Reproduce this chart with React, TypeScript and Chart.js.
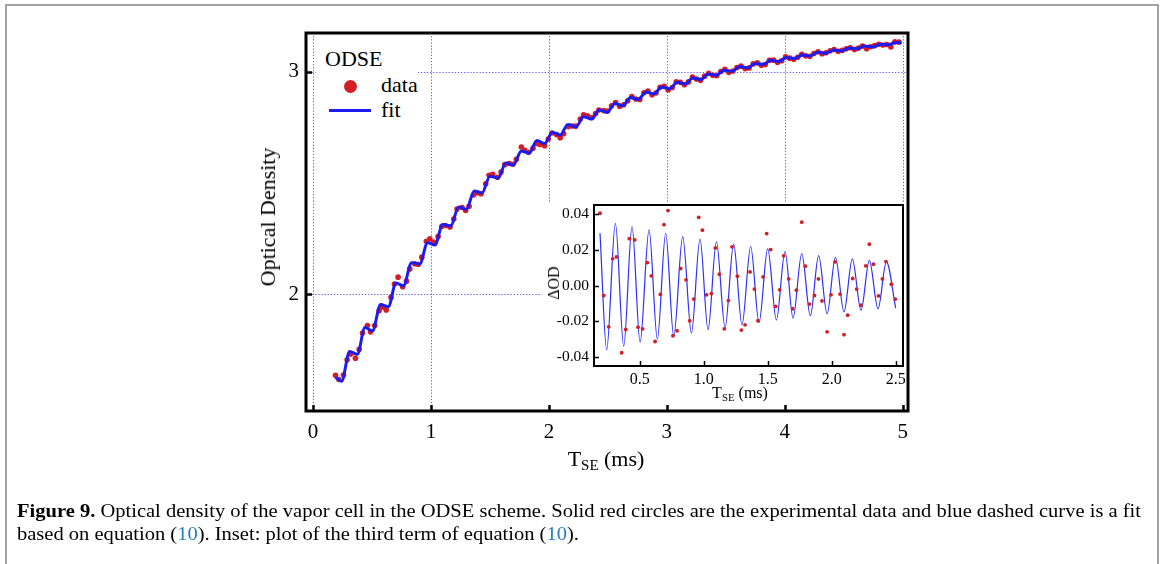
import React, { useEffect, useLayoutEffect, useRef } from "react";
import { Chart, registerables } from "chart.js";

Chart.register(...registerables);

const SERIF = '"Liberation Serif", "Times New Roman", serif';

// ---------- main plot data ----------
const dataX = [
  0.190, 0.219, 0.258, 0.289, 0.318, 0.359, 0.391, 0.419, 0.461, 0.487,
  0.523, 0.560, 0.591, 0.620, 0.661, 0.690, 0.721, 0.760, 0.792, 0.820,
  0.862, 0.891, 0.922, 0.961, 0.990, 1.023, 1.060, 1.091, 1.122, 1.161,
  1.193, 1.221, 1.263, 1.294, 1.323, 1.362, 1.396, 1.424, 1.464, 1.492,
  1.523, 1.563, 1.594, 1.625, 1.664, 1.695, 1.724, 1.766, 1.794, 1.826,
  1.865, 1.896, 1.924, 1.964, 1.995, 2.026, 2.065, 2.096, 2.125, 2.164,
  2.195, 2.227, 2.266, 2.294, 2.326, 2.365, 2.396, 2.424, 2.466, 2.497,
  2.531, 2.565, 2.600, 2.634, 2.668, 2.703, 2.737, 2.771, 2.806, 2.840,
  2.874, 2.908, 2.943, 2.977, 3.011, 3.046, 3.080, 3.114, 3.149, 3.183,
  3.217, 3.252, 3.286, 3.320, 3.355, 3.389, 3.423, 3.458, 3.492, 3.526,
  3.561, 3.595, 3.629, 3.664, 3.698, 3.732, 3.767, 3.801, 3.835, 3.870,
  3.904, 3.938, 3.973, 4.007, 4.041, 4.076, 4.110, 4.144, 4.179, 4.213,
  4.247, 4.282, 4.316, 4.350, 4.385, 4.419, 4.453, 4.488, 4.522, 4.556,
  4.591, 4.625, 4.659, 4.694, 4.728, 4.762, 4.797, 4.831, 4.865, 4.900,
  4.934, 4.968,
];
const dataY = [
  1.636, 1.617, 1.637, 1.705, 1.731, 1.712, 1.752, 1.826, 1.859, 1.831,
  1.859, 1.926, 1.943, 1.929, 1.986, 2.046, 2.077, 2.034, 2.059, 2.114,
  2.137, 2.134, 2.167, 2.238, 2.249, 2.235, 2.260, 2.305, 2.309, 2.303,
  2.338, 2.383, 2.390, 2.377, 2.396, 2.447, 2.456, 2.452, 2.497, 2.535,
  2.540, 2.526, 2.550, 2.583, 2.588, 2.585, 2.607, 2.662, 2.648, 2.639,
  2.657, 2.678, 2.673, 2.668, 2.698, 2.725, 2.718, 2.704, 2.722, 2.754,
  2.757, 2.756, 2.788, 2.807, 2.803, 2.795, 2.813, 2.829, 2.826, 2.824,
  2.848, 2.862, 2.846, 2.852, 2.870, 2.889, 2.878, 2.876, 2.906, 2.914,
  2.897, 2.905, 2.931, 2.935, 2.919, 2.930, 2.956, 2.953, 2.942, 2.955,
  2.977, 2.968, 2.962, 2.981, 2.994, 2.985, 2.983, 3.002, 3.012, 2.998,
  3.004, 3.020, 3.026, 3.015, 3.018, 3.036, 3.041, 3.030, 3.033, 3.052,
  3.053, 3.043, 3.050, 3.068, 3.062, 3.057, 3.066, 3.079, 3.072, 3.070,
  3.083, 3.091, 3.082, 3.086, 3.095, 3.101, 3.093, 3.097, 3.104, 3.109,
  3.101, 3.107, 3.116, 3.104, 3.113, 3.118, 3.124, 3.121, 3.123, 3.112,
  3.135, 3.134,
];
const fitX = [
  0.190, 0.242, 0.310, 0.375, 0.440, 0.503, 0.573, 0.638, 0.703, 0.766,
  0.836, 0.904, 0.971, 1.034, 1.099, 1.167, 1.234, 1.299, 1.367, 1.432,
  1.500, 1.568, 1.635, 1.698, 1.766, 1.833, 1.898, 1.964, 2.029, 2.096,
  2.161, 2.229, 2.294, 2.362, 2.427, 2.493, 2.559, 2.625, 2.692, 2.758,
  2.824, 2.890, 2.956, 3.022, 3.088, 3.155, 3.221, 3.287, 3.353, 3.419,
  3.485, 3.552, 3.618, 3.684, 3.750, 3.816, 3.882, 3.949, 4.015, 4.081,
  4.147, 4.213, 4.279, 4.346, 4.412, 4.478, 4.544, 4.610, 4.676, 4.743,
  4.809, 4.875, 4.941, 4.990,
];
const fitY = [
  1.626, 1.609, 1.743, 1.730, 1.850, 1.835, 1.954, 1.944, 2.051, 2.038,
  2.142, 2.136, 2.232, 2.222, 2.314, 2.307, 2.392, 2.382, 2.464, 2.455,
  2.531, 2.522, 2.590, 2.581, 2.644, 2.635, 2.691, 2.678, 2.729, 2.716,
  2.764, 2.753, 2.798, 2.788, 2.829, 2.818, 2.858, 2.848, 2.885, 2.876,
  2.910, 2.901, 2.932, 2.924, 2.953, 2.946, 2.973, 2.966, 2.991, 2.985,
  3.008, 3.002, 3.024, 3.018, 3.038, 3.034, 3.052, 3.047, 3.065, 3.060,
  3.076, 3.072, 3.088, 3.084, 3.098, 3.094, 3.107, 3.104, 3.116, 3.112,
  3.124, 3.122, 3.132, 3.130,
];

// ---------- inset data ----------
const insetDataX = [
  0.190, 0.219, 0.258, 0.289, 0.318, 0.359, 0.391, 0.419, 0.461, 0.487,
  0.523, 0.560, 0.591, 0.620, 0.661, 0.690, 0.721, 0.760, 0.792, 0.820,
  0.862, 0.891, 0.922, 0.961, 0.990, 1.023, 1.060, 1.091, 1.122, 1.161,
  1.193, 1.221, 1.263, 1.294, 1.323, 1.362, 1.396, 1.424, 1.464, 1.492,
  1.523, 1.563, 1.594, 1.625, 1.664, 1.695, 1.724, 1.766, 1.794, 1.826,
  1.865, 1.896, 1.924, 1.964, 1.995, 2.026, 2.065, 2.096, 2.125, 2.164,
  2.195, 2.227, 2.266, 2.294, 2.326, 2.365, 2.396, 2.424, 2.466, 2.497,
];
const insetDataY = [
  0.0404, -0.0056, -0.0231, 0.0149, 0.0160, -0.0376, -0.0246, 0.0262, 0.0255, -0.0233,
  -0.0242, 0.0128, 0.0054, -0.0313, -0.0050, 0.0340, 0.0419, -0.0281, -0.0253, 0.0095,
  0.0032, -0.0197, -0.0076, 0.0381, 0.0309, -0.0052, -0.0045, 0.0210, 0.0063, -0.0242,
  -0.0084, 0.0216, 0.0052, -0.0249, -0.0220, 0.0076, -0.0020, -0.0197, 0.0048, 0.0290,
  0.0201, -0.0117, -0.0024, 0.0166, 0.0037, -0.0130, -0.0026, 0.0354, 0.0108, -0.0104,
  -0.0056, 0.0037, -0.0086, -0.0259, -0.0052, 0.0132, -0.0048, -0.0275, -0.0166, 0.0039,
  -0.0020, -0.0110, 0.0110, 0.0231, 0.0119, -0.0058, 0.0037, 0.0134, 0.0007, -0.0076,
];
const insetFitX = [
  0.190, 0.242, 0.310, 0.375, 0.440, 0.503, 0.573, 0.638, 0.703, 0.766,
  0.836, 0.904, 0.971, 1.034, 1.099, 1.167, 1.234, 1.299, 1.367, 1.432,
  1.500, 1.568, 1.635, 1.698, 1.766, 1.833, 1.898, 1.964, 2.029, 2.096,
  2.161, 2.229, 2.294, 2.362, 2.427, 2.500,
];
const insetFitY = [
  0.0292, -0.0359, 0.0348, -0.0340, 0.0329, -0.0318, 0.0311, -0.0300, 0.0292, -0.0285,
  0.0273, -0.0266, 0.0260, -0.0247, 0.0246, -0.0234, 0.0231, -0.0220, 0.0218, -0.0207,
  0.0205, -0.0193, 0.0190, -0.0182, 0.0179, -0.0169, 0.0167, -0.0158, 0.0158, -0.0147,
  0.0149, -0.0138, 0.0140, -0.0130, 0.0134, -0.0127,
];

// ---------- ticks ----------
const mainXTicks = [0, 1, 2, 3, 4, 5];
const mainYTicks = [2, 3];
const insetXTicks = [0.5, 1.0, 1.5, 2.0, 2.5];
const insetYTicks = [-0.04, -0.02, 0.0, 0.02, 0.04];

const RED = "rgb(210,30,36)";
const BLUE = "rgb(28,28,240)";
const INSET_BLUE = "rgb(45,45,255)";
const GRID = "rgb(95,95,255)";

const pts = (xs: number[], ys: number[]) => xs.map((x, i) => ({ x, y: ys[i] }));

function framePlugin(o: {
  grid: boolean;
  frameWidth: number;
  tickLen: number;
  tickWidth: number;
  xTicks: number[];
  yTicks: number[];
  white?: [number, number, number, number];
}) {
  return {
    id: "frame",
    beforeDraw(chart: any) {
      if (!o.white) return;
      const ctx = chart.ctx;
      ctx.save();
      ctx.fillStyle = "#fff";
      ctx.fillRect(o.white[0], o.white[1], o.white[2], o.white[3]);
      ctx.restore();
    },
    beforeDatasetsDraw(chart: any) {
      if (!o.grid) return;
      const { ctx, chartArea: a, scales } = chart;
      ctx.save();
      ctx.strokeStyle = GRID;
      ctx.lineWidth = 1;
      ctx.setLineDash([1.3, 1.8]);
      for (const v of o.xTicks) {
        const px = Math.round(scales.x.getPixelForValue(v)) + 0.5;
        ctx.beginPath();
        ctx.moveTo(px, a.top);
        ctx.lineTo(px, a.bottom);
        ctx.stroke();
      }
      for (const v of o.yTicks) {
        const py = Math.round(scales.y.getPixelForValue(v)) + 0.5;
        ctx.beginPath();
        ctx.moveTo(a.left, py);
        ctx.lineTo(a.right, py);
        ctx.stroke();
      }
      ctx.restore();
    },
    afterDatasetsDraw(chart: any) {
      const { ctx, chartArea: a, scales } = chart;
      ctx.save();
      ctx.setLineDash([]);
      ctx.strokeStyle = "#000";
      ctx.lineWidth = o.frameWidth;
      ctx.strokeRect(a.left, a.top, a.right - a.left, a.bottom - a.top);
      ctx.lineWidth = o.tickWidth;
      for (const v of o.xTicks) {
        const px = Math.round(scales.x.getPixelForValue(v)) + 0.5;
        ctx.beginPath();
        ctx.moveTo(px, a.bottom);
        ctx.lineTo(px, a.bottom - o.tickLen);
        ctx.stroke();
      }
      for (const v of o.yTicks) {
        const py = Math.round(scales.y.getPixelForValue(v)) + 0.5;
        ctx.beginPath();
        ctx.moveTo(a.left, py);
        ctx.lineTo(a.left + o.tickLen, py);
        ctx.stroke();
      }
      ctx.restore();
    },
  };
}

function axis(
  min: number,
  max: number,
  ticks: number[],
  size: number,
  fontSize: number,
  padding: number,
  fmt: (v: number) => string,
  isX: boolean
) {
  return {
    type: "linear" as const,
    min,
    max,
    afterBuildTicks: (s: any) => {
      s.ticks = ticks.map((v) => ({ value: v }));
    },
    afterFit: (s: any) => {
      if (isX) s.height = size;
      else s.width = size;
    },
    grid: { display: false, drawTicks: false },
    border: { display: false },
    ticks: {
      color: "#000",
      font: { family: SERIF, size: fontSize },
      padding,
      autoSkip: false,
      maxRotation: 0,
      callback: (v: any) => fmt(Number(v)),
    },
  };
}

// inset canvas placement on the page
const IN_LEFT = 520;
const IN_TOP = 180;
const IN_W = 420;
const IN_H = 240;

export default function App() {
  const mainRef = useRef<HTMLCanvasElement>(null);
  const insetRef = useRef<HTMLCanvasElement>(null);
  const capRef = useRef<HTMLDivElement>(null);
  const line1Ref = useRef<HTMLSpanElement>(null);

  useEffect(() => {
    const main = new Chart(mainRef.current as HTMLCanvasElement, {
      type: "scatter",
      data: {
        datasets: [
          {
            label: "fit",
            data: pts(fitX, fitY),
            showLine: true,
            borderColor: BLUE,
            borderWidth: 3,
            pointRadius: 0,
            fill: false,
            cubicInterpolationMode: "monotone",
            order: 0,
          } as any,
          {
            label: "data",
            data: pts(dataX, dataY),
            showLine: false,
            backgroundColor: RED,
            borderWidth: 0,
            pointRadius: 2.8,
            order: 1,
          } as any,
        ],
      },
      options: {
        animation: false,
        responsive: false,
        maintainAspectRatio: false,
        layout: { padding: { left: 306 - 40, right: 1166 - 908, top: 33, bottom: 564 - 411 - 45 } },
        plugins: { legend: { display: false }, tooltip: { enabled: false } },
        scales: {
          x: axis(-0.06, 5.045, mainXTicks, 45, 21, 9, (v) => String(v), true),
          y: axis(1.475, 3.175, mainYTicks, 40, 21, 7, (v) => String(v), false),
        } as any,
      },
      plugins: [framePlugin({ grid: true, frameWidth: 3, tickLen: 6, tickWidth: 2.5, xTicks: mainXTicks, yTicks: mainYTicks })],
    });

    // inset chart area on page: x 594..903, y 205..366 ; white box 542..906 x 202..404
    const inset = new Chart(insetRef.current as HTMLCanvasElement, {
      type: "scatter",
      data: {
        datasets: [
          {
            label: "data",
            data: pts(insetDataX, insetDataY),
            showLine: false,
            backgroundColor: RED,
            borderWidth: 0,
            pointRadius: 1.9,
            order: 0,
          } as any,
          {
            label: "fit",
            data: pts(insetFitX, insetFitY),
            showLine: true,
            borderColor: INSET_BLUE,
            borderWidth: 1.2,
            pointRadius: 0,
            fill: false,
            cubicInterpolationMode: "monotone",
            order: 1,
          } as any,
        ],
      },
      options: {
        animation: false,
        responsive: false,
        maintainAspectRatio: false,
        layout: {
          padding: {
            left: 594 - IN_LEFT - 50,
            right: IN_LEFT + IN_W - 903,
            top: 205 - IN_TOP,
            bottom: IN_TOP + IN_H - 366 - 30,
          },
        },
        plugins: { legend: { display: false }, tooltip: { enabled: false } },
        scales: {
          x: axis(0.143, 2.557, insetXTicks, 30, 16, 4, (v) => v.toFixed(1), true),
          y: axis(-0.045, 0.045, insetYTicks, 50, 15.5, 5, (v) => v.toFixed(2), false),
        } as any,
      },
      plugins: [
        framePlugin({
          grid: false,
          frameWidth: 2,
          tickLen: 5,
          tickWidth: 1.5,
          xTicks: insetXTicks,
          yTicks: insetYTicks,
          white: [542 - IN_LEFT, 202 - IN_TOP, 906 - 542, 404 - 202],
        }),
      ],
    });

    return () => {
      main.destroy();
      inset.destroy();
    };
  }, []);

  useLayoutEffect(() => {
    const fit = () => {
      const l1 = line1Ref.current;
      const cap = capRef.current;
      if (!l1 || !cap) return;
      cap.style.transform = "none";
      const w = l1.getBoundingClientRect().width;
      if (w > 0) cap.style.transform = `scaleX(${1124 / w})`;
    };
    fit();
    const fonts: any = (document as any).fonts;
    if (fonts && fonts.ready) fonts.ready.then(fit);
  }, []);

  const abs: React.CSSProperties = { position: "absolute", margin: 0, whiteSpace: "nowrap", fontFamily: SERIF, color: "#000" };

  return (
    <div style={{ position: "absolute", left: 0, top: 0, width: 1166, height: 564, overflow: "hidden", background: "#fff" }}>
      <div style={{ position: "absolute", left: 5, top: 4, width: 1150, height: 700, border: "2px solid #a3a3a3" }} />
      <canvas ref={mainRef} width={1166} height={564} style={{ position: "absolute", left: 0, top: 0 }} />

      {/* legend */}
      <div style={{ position: "absolute", left: 316, top: 35, width: 102, height: 90, background: "#fff" }} />
      <div style={{ ...abs, left: 325, top: 48.3, fontSize: 22, lineHeight: "22px" }}>ODSE</div>
      <div style={{ position: "absolute", left: 343.5, top: 79.5, width: 13, height: 13, borderRadius: "50%", background: RED }} />
      <div style={{ ...abs, left: 381, top: 74, fontSize: 22, lineHeight: "22px" }}>data</div>
      <div style={{ position: "absolute", left: 329, top: 109.2, width: 42, height: 3, background: BLUE }} />
      <div style={{ ...abs, left: 381, top: 99, fontSize: 22, lineHeight: "22px" }}>fit</div>

      {/* main axis titles */}
      <div
        style={{
          ...abs,
          left: 267.5,
          top: 217,
          fontSize: 22,
          lineHeight: "22px",
          transform: "translate(-50%, -50%) rotate(-90deg)",
        }}
      >
        Optical Density
      </div>
      <div style={{ ...abs, left: 606, top: 447.6, fontSize: 22, lineHeight: "22px", transform: "translateX(-50%)" }}>
        T<span style={{ fontSize: "0.68em", verticalAlign: "-0.3em" }}>SE</span> (ms)
      </div>

      {/* inset */}
      <canvas ref={insetRef} width={IN_W} height={IN_H} style={{ position: "absolute", left: IN_LEFT, top: IN_TOP }} />
      <div
        style={{
          ...abs,
          left: 553.5,
          top: 283,
          fontSize: 16,
          lineHeight: "16px",
          transform: "translate(-50%, -50%) rotate(-90deg)",
        }}
      >
        ΔOD
      </div>
      <div style={{ ...abs, left: 740, top: 384.5, fontSize: 16, lineHeight: "16px", transform: "translateX(-50%)" }}>
        T<span style={{ fontSize: "0.68em", verticalAlign: "-0.3em" }}>SE</span> (ms)
      </div>

      {/* caption */}
      <div
        ref={capRef}
        style={{ ...abs, left: 17, top: 498.5, fontSize: 19.5, lineHeight: "23.3px", transformOrigin: "0 0" }}
      >
        <span ref={line1Ref}>
          <b>Figure 9.</b> Optical density of the vapor cell in the ODSE scheme. Solid red circles are the experimental data and blue
          dashed curve is a fit
        </span>
        <br />
        <span>
          based on equation (<span style={{ color: "#1f7fc0" }}>10</span>). Inset: plot of the third term of equation (
          <span style={{ color: "#1f7fc0" }}>10</span>).
        </span>
      </div>
    </div>
  );
}
